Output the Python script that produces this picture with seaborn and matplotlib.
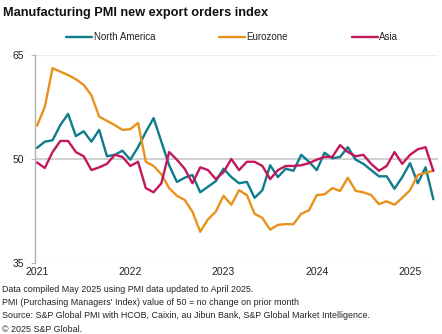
import numpy as np
import pandas as pd
import matplotlib
matplotlib.use("Agg")
import matplotlib.pyplot as plt
import seaborn as sns

# Monthly data Jan 2021 .. Apr 2025
months = pd.date_range("2021-01-01", "2025-04-01", freq="MS")
north_america = [51.6, 52.5, 52.7, 54.9, 56.5, 53.3, 54.0, 52.5, 54.2, 50.4, 50.6, 51.2,
                 49.9, 51.7, 53.9, 55.9, 52.5, 49.1, 46.7, 47.3, 47.7, 45.2, 46.0, 46.8,
                 48.6, 47.4, 46.5, 46.7, 44.4, 45.5, 49.1, 47.4, 48.6, 48.3, 50.6, 49.6,
                 48.4, 50.9, 50.1, 50.3, 51.7, 49.9, 49.3, 48.4, 47.5, 47.5, 45.7, 47.4,
                 49.4, 46.5, 48.8, 44.2]
eurozone = [54.8, 57.5, 63.1, 62.6, 62.1, 61.5, 60.7, 59.2, 56.1, 55.5, 54.9, 54.2,
            54.3, 55.2, 49.6, 49.0, 47.8, 45.8, 44.7, 44.1, 42.4, 39.5, 41.3, 42.4,
            44.7, 43.4, 45.5, 44.8, 42.1, 41.5, 39.8, 40.5, 40.6, 40.6, 42.1, 42.6,
            44.8, 44.9, 45.8, 45.4, 47.3, 45.4, 45.2, 44.8, 43.5, 43.9, 43.4, 44.4,
            45.5, 47.7, 48.0, 48.3]
asia = [49.5, 48.7, 51.0, 52.6, 52.6, 51.0, 50.4, 48.4, 48.8, 49.3, 50.6, 50.3,
        49.0, 49.6, 45.8, 45.2, 46.5, 51.0, 49.9, 48.6, 46.5, 48.8, 48.4, 47.1,
        48.1, 50.0, 48.4, 49.6, 49.6, 49.0, 47.1, 48.4, 49.0, 49.0, 49.1, 49.4,
        49.9, 50.3, 50.3, 52.0, 51.0, 50.4, 50.6, 49.3, 48.3, 49.0, 51.0, 49.3,
        50.6, 51.4, 51.7, 48.3]
series_names = ["North America", "Eurozone", "Asia"]
colors = ["#0f7b8c", "#e8921b", "#c2185b"]
year_ticks = ["2021", "2022", "2023", "2024", "2025"]
y_ticks = [35, 50, 65]

idx = np.arange(len(months))
df = pd.DataFrame({
    "t": np.concatenate([idx, idx, idx]),
    "value": north_america + eurozone + asia,
    "region": np.repeat(series_names, len(idx)),
})

sns.set_theme(style="white")
plt.rcParams["font.family"] = ["Liberation Sans", "DejaVu Sans"]

fig = plt.figure(figsize=(4.42, 3.34), dpi=100)
ax = fig.add_axes([35 / 442, 1 - 263 / 334, 403 / 442, 208 / 334])

sns.lineplot(data=df, x="t", y="value", hue="region", hue_order=series_names,
             palette=colors, linewidth=1.7, ax=ax)

ax.set_xlim(-0.26, 51.6)
ax.set_ylim(35, 65)
ax.set_yticks(y_ticks)
ax.set_yticklabels([str(v) for v in y_ticks], fontsize=7.5, color="#222222")
ax.set_xticks([0, 12, 24, 36, 48])
ax.set_xticklabels(year_ticks, fontsize=7.5, color="#222222")
ax.set_xlabel("")
ax.set_ylabel("")
ax.tick_params(axis="y", length=3, width=0.6, color="#aaaaaa", pad=5, direction="out", left=True)
ax.tick_params(axis="x", length=0, pad=3)

for v in [35, 65]:
    ax.axhline(v, color="#ececec", lw=0.8, zorder=0)
ax.axhline(50, color="#c8c8c8", lw=1.2, zorder=0)
for s in ["top", "right", "bottom"]:
    ax.spines[s].set_visible(False)
ax.spines["left"].set_color("#b0b0b0")
ax.spines["left"].set_linewidth(1.0)

leg = ax.legend(loc="center", bbox_to_anchor=(0.49, 1.085), ncol=3, frameon=False,
                fontsize=7, handlelength=2.6, handletextpad=0.2, columnspacing=6.6)
for t in leg.get_texts():
    t.set_color("#222222")

fig.text(3 / 442, 1 - 13 / 334, "Manufacturing PMI new export orders index",
         fontsize=9.2, fontweight="bold", va="center", ha="left", color="#111111")

notes = [
    "Data compiled May 2025 using PMI data updated to April 2025.",
    "PMI (Purchasing Managers' Index) value of 50 = no change on prior month",
    "Source: S&P Global PMI with HCOB, Caixin, au Jibun Bank, S&P Global Market Intelligence.",
    "\u00a9 2025 S&P Global.",
]
for k, line in enumerate(notes):
    fig.text(2 / 442, 1 - (289 + 13.5 * k) / 334, line, fontsize=6.4,
             va="center", ha="left", color="#222222")

fig.savefig("out.png", dpi=100)
